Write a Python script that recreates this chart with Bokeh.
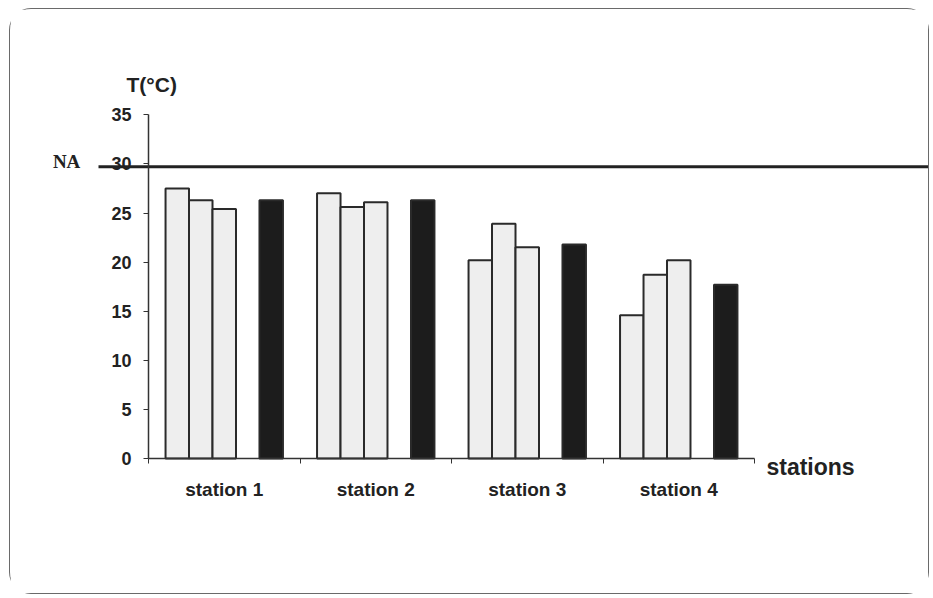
from bokeh.plotting import figure
from bokeh.models import LinearAxis, FixedTicker, Label, Range1d, ColumnDataSource
from bokeh.transform import dodge
from bokeh.embed import file_html
from bokeh.resources import INLINE

stations = ["station 1", "station 2", "station 3", "station 4"]
series_a = [27.5, 27.0, 20.2, 14.6]
series_b = [26.3, 25.6, 23.9, 18.7]
series_c = [25.4, 26.1, 21.5, 20.2]
series_mean = [26.3, 26.3, 21.8, 17.7]
na_value = 29.7
y_ticks = [0, 5, 10, 15, 20, 25, 30, 35]

centers = [i + 0.5 for i in range(len(stations))]
src = ColumnDataSource(dict(x=centers, a=series_a, b=series_b, c=series_c, m=series_mean))

# page geometry (figure placed at page x=9, y=8)
OX, OY = 9, 8
W, H = 920, 586
ML, MT, MB = 36, 52, 89
PXU_X, PXU_Y = 151.5, 9.82
X0_PAGE, Y0_PAGE = 147, 457
fl = OX + ML
fr = OX + W
ft = OY + MT
fb = OY + H - MB
x_start = (fl - X0_PAGE) / PXU_X
x_end = (fr - X0_PAGE) / PXU_X
y_end = (Y0_PAGE - ft) / PXU_Y
y_start = (Y0_PAGE - fb) / PXU_Y

p = figure(width=W, height=H, output_backend="svg", toolbar_location=None, title=None,
           x_range=Range1d(x_start, x_end), y_range=Range1d(y_start, y_end),
           y_axis_location=None, x_axis_location=None,
           min_border_left=ML, min_border_right=0, min_border_top=MT, min_border_bottom=MB)
p.outline_line_color = None
p.background_fill_color = "white"
p.border_fill_color = "white"
p.styles = {"border": "1.5px solid #6a6a6a", "border-radius": "22px",
            "box-sizing": "border-box", "margin-left": f"{OX}px", "margin-top": f"{OY}px"}

FONT = "Liberation Sans"
light = "#eeeeee"
edge = "#2a2a2a"
bw = 0.155
for col, off, fill in [("a", -0.31, light), ("b", -0.155, light), ("c", 0.0, light), ("m", 0.31, "#1c1c1c")]:
    p.vbar(x=dodge("x", off, range=p.x_range), top=col, bottom=0, width=bw, source=src,
           fill_color=fill, line_color=edge, line_width=2)

# NA reference line
p.segment(x0=[-0.33], x1=[x_end], y0=[na_value], y1=[na_value], line_color="#222222", line_width=3)

# y axis at x = 0
yax = LinearAxis(fixed_location=0, ticker=FixedTicker(ticks=y_ticks), bounds=(0, 35))
yax.axis_line_color = "#333333"
yax.axis_line_width = 1.5
yax.major_tick_out = 5
yax.major_tick_in = 0
yax.major_tick_line_color = "#333333"
yax.minor_tick_line_color = None
yax.major_label_standoff = 12
yax.major_label_text_font = FONT
yax.major_label_text_font_style = "bold"
yax.major_label_text_font_size = "18px"
yax.major_label_text_color = "#222222"
p.add_layout(yax, "left")

# x axis at y = 0
xax = LinearAxis(fixed_location=0, ticker=FixedTicker(ticks=centers, minor_ticks=[0, 1, 2, 3, 4]),
                 bounds=(0, 4))
xax.major_label_overrides = {c: s for c, s in zip(centers, stations)}
xax.axis_line_color = "#333333"
xax.axis_line_width = 1.5
xax.major_tick_line_color = None
xax.major_tick_out = 0
xax.major_tick_in = 0
xax.minor_tick_out = 5
xax.minor_tick_in = 0
xax.minor_tick_line_color = "#333333"
xax.major_label_standoff = 15
xax.major_label_text_font = FONT
xax.major_label_text_font_style = "bold"
xax.major_label_text_font_size = "19px"
xax.major_label_text_color = "#222222"
p.add_layout(xax, "below")

for g in p.grid:
    g.visible = False

p.add_layout(Label(x=-0.145, y=38.1, text="T(°C)", text_align="left", text_baseline="middle",
                   text_font=FONT, text_font_style="bold", text_font_size="21px", text_color="#222222"))
p.add_layout(Label(x=-0.45, y=30.2, text="NA", text_align="right", text_baseline="middle",
                   text_font="Liberation Serif", text_font_style="bold", text_font_size="19px",
                   text_color="#222222"))
p.add_layout(Label(x=4.079, y=-0.85, text="stations", text_align="left", text_baseline="middle",
                   text_font=FONT, text_font_style="bold", text_font_size="23px", text_color="#222222"))

open("out.html", "w").write(file_html(p, INLINE))
